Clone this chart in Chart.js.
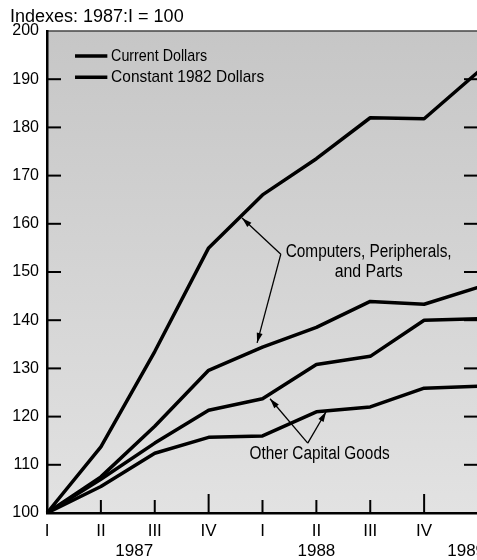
<!DOCTYPE html>
<html>
<head>
<meta charset="utf-8">
<script src="https://cdn.jsdelivr.net/npm/chart.js@4.4.1/dist/chart.umd.min.js"></script>
<style>
  html, body { margin: 0; padding: 0; background: #fff; overflow: hidden; }
</style>
</head>
<body>
<canvas id="indexChart" width="500" height="560"></canvas>
<script>
// quarters 1987:I .. 1989:I
const quarters = ["I", "II", "III", "IV", "I", "II", "III", "IV", "I"];
const years = ["1987", "1988", "1989"];
const yTicks = [100, 110, 120, 130, 140, 150, 160, 170, 180, 190, 200];

const computersCurrent = [100, 113.7, 133.5, 155, 166, 173.5, 182, 181.8, 191.5];
const computersConstant = [100, 107.5, 118, 129.6, 134.4, 138.5, 143.9, 143.3, 146.8];
const otherCurrent = [100, 107, 114.5, 121.3, 123.7, 130.8, 132.5, 140, 140.3];
const otherConstant = [100, 105.5, 112.4, 115.7, 116, 121, 122, 125.9, 126.3];

const SANS = '"Liberation Sans", Arial, sans-serif';

function seg(ctx, x1, y1, x2, y2) {
  ctx.beginPath();
  ctx.moveTo(x1, y1);
  ctx.lineTo(x2, y2);
  ctx.stroke();
}

function arrow(ctx, x1, y1, x2, y2) {
  seg(ctx, x1, y1, x2, y2);
  const ang = Math.atan2(y2 - y1, x2 - x1);
  const len = 10, w = 3;
  ctx.beginPath();
  ctx.moveTo(x2, y2);
  ctx.lineTo(x2 - len * Math.cos(ang) + w * Math.sin(ang), y2 - len * Math.sin(ang) - w * Math.cos(ang));
  ctx.lineTo(x2 - len * Math.cos(ang) - w * Math.sin(ang), y2 - len * Math.sin(ang) + w * Math.cos(ang));
  ctx.closePath();
  ctx.fill();
}

// condensed text: squeeze a normal face to a target width
function narrowText(ctx, text, x, y, width, align) {
  const sx = width / ctx.measureText(text).width;
  const left = align === "center" ? x - width / 2 : x;
  ctx.save();
  ctx.textAlign = "left";
  ctx.translate(left, y);
  ctx.scale(sx, 1);
  ctx.fillText(text, 0, 0);
  ctx.restore();
}

const decor = {
  id: "decor",
  beforeDraw(chart) {
    const { ctx, chartArea: a } = chart;
    const g = ctx.createLinearGradient(0, a.top, 0, a.bottom);
    g.addColorStop(0, "#c6c6c6");
    g.addColorStop(1, "#e2e2e2");
    ctx.save();
    ctx.fillStyle = g;
    ctx.fillRect(a.left, a.top, a.right - a.left, a.bottom - a.top);
    ctx.strokeStyle = "#444";
    ctx.lineWidth = 1.5;
    seg(ctx, a.left, a.top, a.right, a.top);
    ctx.restore();
  },
  afterDraw(chart) {
    const { ctx, chartArea: a, scales: { x, y } } = chart;
    const px = (i) => x.getPixelForValue(i);
    const py = (v) => y.getPixelForValue(v);
    ctx.save();
    ctx.fillStyle = "#000";
    ctx.strokeStyle = "#000";

    // title
    ctx.font = "18px " + SANS;
    ctx.textAlign = "left";
    ctx.textBaseline = "alphabetic";
    ctx.fillText("Indexes: 1987:I = 100", 10, 22);

    // inward ticks
    ctx.lineWidth = 2;
    yTicks.forEach((v) => {
      if (v === 100 || v === 200) return;
      seg(ctx, a.left, py(v), a.left + 14, py(v));
      seg(ctx, a.right - 14, py(v), a.right, py(v));
    });
    quarters.forEach((q, i) => {
      if (i === 0) return;
      const h = q === "IV" ? 19 : 13;
      seg(ctx, px(i), a.bottom, px(i), a.bottom - h);
    });

    // years
    ctx.font = "17px " + SANS;
    ctx.textAlign = "center";
    ctx.textBaseline = "middle";
    ctx.fillText(years[0], px(1.62), 551);
    ctx.fillText(years[1], px(5), 551);
    ctx.fillText(years[2], px(7.78), 551);

    // legend
    ctx.lineWidth = 3.5;
    seg(ctx, px(0.52), py(194.8), px(1.12), py(194.8));
    seg(ctx, px(0.52), py(190.4), px(1.12), py(190.4));
    ctx.font = "17px " + SANS;
    narrowText(ctx, "Current Dollars", px(1.19), py(194.8), 96, "left");
    narrowText(ctx, "Constant 1982 Dollars", px(1.19), py(190.4), 153, "left");

    // annotations
    ctx.font = "18px " + SANS;
    narrowText(ctx, "Computers, Peripherals,", px(5.97), py(154.1), 166, "center");
    narrowText(ctx, "and Parts", px(5.97), py(150.0), 68, "center");
    narrowText(ctx, "Other Capital Goods", px(5.06), py(112.2), 140, "center");

    ctx.lineWidth = 1.3;
    arrow(ctx, px(4.34), py(153.7), px(3.62), py(161.2));
    arrow(ctx, px(4.34), py(153.7), px(3.90), py(135.3));
    arrow(ctx, px(4.84), py(114.5), px(4.14), py(123.7));
    arrow(ctx, px(4.84), py(114.5), px(5.18), py(121.0));
    ctx.restore();
  }
};

const lineStyle = {
  borderColor: "#000",
  borderWidth: 3.5,
  pointRadius: 0,
  tension: 0,
  fill: false,
  borderJoinStyle: "round"
};

new Chart(document.getElementById("indexChart"), {
  type: "line",
  data: {
    labels: quarters,
    datasets: [
      { label: "Computers, current dollars", data: computersCurrent, ...lineStyle },
      { label: "Computers, constant 1982 dollars", data: computersConstant, ...lineStyle },
      { label: "Other capital goods, current dollars", data: otherCurrent, ...lineStyle },
      { label: "Other capital goods, constant 1982 dollars", data: otherConstant, ...lineStyle }
    ]
  },
  options: {
    responsive: false,
    animation: false,
    layout: { padding: { top: 31, right: 22, left: 0, bottom: 0 } },
    plugins: { legend: { display: false }, title: { display: false }, tooltip: { enabled: false } },
    scales: {
      x: {
        offset: false,
        grid: { display: false, drawTicks: false },
        border: { display: true, color: "#000", width: 2.5 },
        ticks: { color: "#000", font: { family: SANS, size: 17 }, padding: 8, maxRotation: 0, autoSkip: false },
        afterFit: (s) => { s.height = 47; }
      },
      y: {
        min: 100,
        max: 200,
        grid: { display: false, drawTicks: false },
        border: { display: true, color: "#000", width: 2.5 },
        afterBuildTicks: (s) => { s.ticks = yTicks.map((v) => ({ value: v })); },
        ticks: { color: "#000", font: { family: SANS, size: 16 }, padding: 8 },
        afterFit: (s) => { s.width = 47; }
      }
    }
  },
  plugins: [decor]
});
</script>
</body>
</html>
